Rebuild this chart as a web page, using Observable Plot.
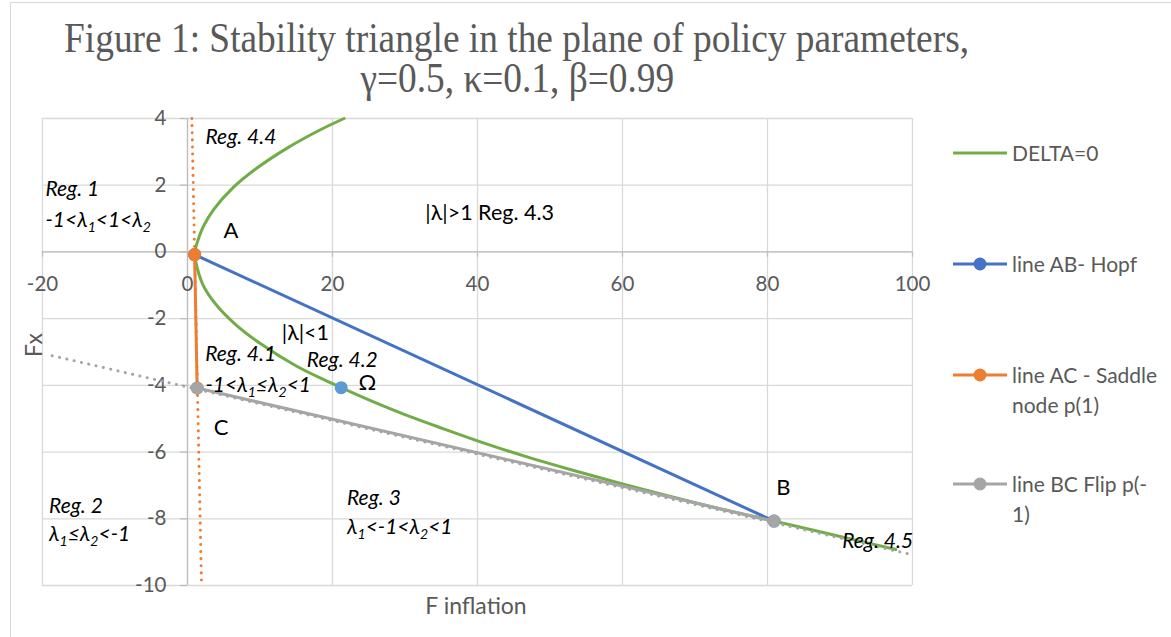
<!DOCTYPE html>
<html><head><meta charset="utf-8">
<script src="https://cdn.jsdelivr.net/npm/d3@7"></script>
<script src="https://cdn.jsdelivr.net/npm/@observablehq/plot@0.6"></script>
<style>
body{margin:0;background:#fff;}
#wrap{position:relative;width:1171px;height:637px;overflow:hidden;font-family:Lato,sans-serif;background:#fff;}
#frame{position:absolute;left:10px;top:2px;width:1300px;height:800px;border-top:1.5px solid #d9d9d9;border-left:1.5px solid #d9d9d9;}
#title{position:absolute;left:-483px;top:18px;width:2000px;text-align:center;font-family:"Liberation Serif",serif;font-size:42px;line-height:40px;color:#595959;}
#title div{white-space:nowrap;}
#title span{display:inline-block;transform-origin:center;white-space:nowrap;}
#chart{position:absolute;left:0;top:105px;}
.lg{position:absolute;left:953px;display:flex;align-items:flex-start;font-size:21px;line-height:30px;color:#595959;white-space:nowrap;}
.lg svg{flex:none;}
.ax{position:absolute;font-size:23px;color:#595959;white-space:nowrap;}
</style>
</head><body>
<div id="wrap">
  <div id="frame"></div>
  <div id="title"></div>
  <div id="chart"></div>
  <div id="legend"></div>
  <div class="ax" id="ytitle"></div>
  <div class="ax" id="xtitle"></div>
</div>
<script>
// ---------- data ----------
const titleLines = ["Figure 1: Stability triangle in the plane of policy parameters,", "γ=0.5, κ=0.1, β=0.99"];
const xTitle = "F inflation";
const yTitle = "Fx";
const xTicks = [-20, 0, 20, 40, 60, 80, 100];
const yTicks = [-10, -8, -6, -4, -2, 0, 2, 4];

const seriesNames = ["DELTA=0", "line AB- Hopf", "line AC - Saddle\nnode p(1)", "line BC Flip p(-\n1)"];
const seriesColors = ["#70AD47", "#4472C4", "#ED7D31", "#A5A5A5"];

// DELTA = 0 curve (upper branch from the top edge, through the vertex near A, down past B)
const deltaX = [21.6, 18.4, 13.8, 9.3, 6.25, 3.6, 2.2, 1.6, 1.18, 0.97, 1.1, 2.1, 3.9, 6.6, 10.2, 15.0, 19.7, 21.2, 25.9, 29.9, 34.9, 40.5, 47.5, 54.4, 60.4, 66.2, 72.8, 80.9, 89.0, 97.7];
const deltaY = [4.0, 3.67, 3.12, 2.47, 1.92, 1.27, 0.77, 0.45, 0.17, -0.08, -0.27, -0.97, -1.57, -2.17, -2.77, -3.42, -3.92, -4.07, -4.52, -4.87, -5.27, -5.70, -6.19, -6.62, -6.98, -7.31, -7.67, -8.07, -8.48, -8.92];

// corner points
const pointNames = ["A", "B", "C"];
const pointX = [0.98, 80.9, 1.33];
const pointY = [-0.08, -8.07, -4.08];
const omegaX = [21.2];
const omegaY = [-4.07];

// dotted extensions
const saddleExtX = [0.6, 1.93];
const saddleExtY = [4, -10];
const flipExtX = [-18.67, 100];
const flipExtY = [-3.11, -9.08];

// annotations
const italicNotes = ["Reg. 4.4", "Reg. 1", "-1<λ_1<1<λ_2", "Reg. 4.1", "Reg. 4.2", "-1<λ_1≤λ_2<1", "Reg. 2", "λ_1≤λ_2<-1", "Reg. 3", "λ_1<-1<λ_2<1", "Reg. 4.5"];
const italicX = [2.48, -19.6, -19.6, 2.44, 16.46, 2.48, -19.1, -19.1, 22.0, 22.0, 90.3];
const italicY = [3.45, 1.89, 0.96, -3.07, -3.26, -3.99, -7.61, -8.46, -7.37, -8.26, -8.68];
const plainNotes = ["|λ|>1 Reg. 4.3", "|λ|<1"];
const plainX = [32.8, 13.0];
const plainY = [1.17, -2.44];
const letterNotes = ["A", "B", "C", "Ω"];
const letterX = [4.97, 81.2, 3.63, 23.6];
const letterY = [0.63, -7.08, -5.27, -3.93];

// ---------- build tables ----------
const delta = deltaX.map((x, i) => ({x, y: deltaY[i]}));
const P = Object.fromEntries(pointNames.map((n, i) => [n, {x: pointX[i], y: pointY[i]}]));
const lineAB = [P.A, P.B];
const lineAC = [P.A, P.C];
const lineBC = [P.C, P.B];
const saddleExt = saddleExtX.map((x, i) => ({x, y: saddleExtY[i]}));
const flipExt = flipExtX.map((x, i) => ({x, y: flipExtY[i]}));
const omega = omegaX.map((x, i) => ({x, y: omegaY[i]}));
const italics = italicNotes.map((t, i) => ({t, x: italicX[i], y: italicY[i]}));
const plains = plainNotes.map((t, i) => ({t, x: plainX[i], y: plainY[i]}));
const letters = letterNotes.map((t, i) => ({t, x: letterX[i], y: letterY[i]}));

const [cGreen, cBlue, cOrange, cGray] = seriesColors;
const grid = "#D9D9D9";
const axisC = "#BFBFBF";
const tickC = "#595959";

const plot = Plot.plot({
  width: 1171,
  height: 532,
  marginLeft: 42,
  marginRight: 259,
  marginTop: 13,
  marginBottom: 52,
  x: {domain: [-20, 100], axis: null},
  y: {domain: [-10, 4], axis: null},
  style: {fontFamily: "Lato, sans-serif", background: "transparent"},
  marks: [
    Plot.ruleX(xTicks, {stroke: grid, strokeWidth: 1.3}),
    Plot.ruleY(yTicks, {stroke: grid, strokeWidth: 1.3}),
    Plot.ruleX([0], {stroke: axisC, strokeWidth: 1.3}),
    Plot.ruleY([0], {stroke: axisC, strokeWidth: 1.3}),
    Plot.ruleX(xTicks, {x: d => d, y1: 0, y2: -0.16, stroke: axisC, strokeWidth: 1.3}),
    Plot.ruleY(yTicks, {y: d => d, x1: -0.95, x2: 0, stroke: axisC, strokeWidth: 1.3}),
    Plot.text(xTicks, {x: d => d, y: 0, dy: 33, text: d => String(d), fill: tickC, fontSize: 20.5, lineAnchor: "middle"}),
    Plot.text(yTicks, {x: 0, y: d => d, dx: -21, text: d => String(d), fill: tickC, fontSize: 20.5, textAnchor: "end", lineAnchor: "middle"}),
    Plot.line(delta, {x: "x", y: "y", stroke: cGreen, strokeWidth: 3, curve: "catmull-rom"}),
    Plot.line(saddleExt, {x: "x", y: "y", stroke: cOrange, strokeWidth: 3, strokeDasharray: "0.1,7", strokeLinecap: "round"}),
    Plot.line(flipExt, {x: "x", y: "y", stroke: cGray, strokeWidth: 3, strokeDasharray: "0.1,7.4", strokeLinecap: "round"}),
    Plot.line(lineAB, {x: "x", y: "y", stroke: cBlue, strokeWidth: 3}),
    Plot.dot(lineAB, {x: "x", y: "y", fill: cBlue, r: 6.5}),
    Plot.line(lineAC, {x: "x", y: "y", stroke: cOrange, strokeWidth: 3}),
    Plot.dot(lineAC, {x: "x", y: "y", fill: cOrange, r: 6.5}),
    Plot.line(lineBC, {x: "x", y: "y", stroke: cGray, strokeWidth: 3}),
    Plot.dot(lineBC, {x: "x", y: "y", fill: cGray, r: 6.5}),
    Plot.dot(omega, {x: "x", y: "y", fill: "#5B9BD5", r: 6.5}),
    Plot.text(italics, {x: "x", y: "y", text: "t", fontStyle: "italic", fontSize: 21, fill: "#000", textAnchor: "start", lineAnchor: "middle"}),
    Plot.text(plains, {x: "x", y: "y", text: "t", fontSize: 21.5, fill: "#000", textAnchor: "start", lineAnchor: "middle"}),
    Plot.text(letters, {x: "x", y: "y", text: "t", fontSize: 22, fill: "#000", textAnchor: "start", lineAnchor: "middle"})
  ]
});

// subscripts: "λ_1" -> λ with a lowered small 1
plot.querySelectorAll("text").forEach(el => {
  const s = el.textContent;
  if (!s.includes("_")) return;
  while (el.firstChild) el.removeChild(el.firstChild);
  const parts = s.split(/(_\d)/);
  const NS = "http://www.w3.org/2000/svg";
  let shifted = false;
  parts.forEach(p => {
    if (!p) return;
    const ts = document.createElementNS(NS, "tspan");
    if (p.startsWith("_")) {
      ts.textContent = p.slice(1);
      ts.setAttribute("font-size", "14");
      ts.setAttribute("dy", "5");
      shifted = true;
    } else {
      ts.textContent = p;
      if (shifted) { ts.setAttribute("dy", "-5"); shifted = false; }
    }
    el.appendChild(ts);
  });
});
document.getElementById("chart").appendChild(plot);

// title
const titleEl = document.getElementById("title");
titleLines.forEach(t => {
  const d = document.createElement("div");
  const s = document.createElement("span");
  s.textContent = t;
  d.appendChild(s);
  titleEl.appendChild(d);
});
const spans = titleEl.querySelectorAll("span");
const w0 = spans[0].getBoundingClientRect().width;
const sx = 905 / w0;
spans.forEach(s => s.style.transform = `scaleX(${sx})`);

// legend
const legendTops = [138, 249, 360, 469];
const legendEl = document.getElementById("legend");
seriesNames.forEach((name, i) => {
  const item = document.createElement("div");
  item.className = "lg";
  item.style.top = legendTops[i] + "px";
  const marker = i === 0 ? "" : `<circle cx="27" cy="15" r="6.5" fill="${seriesColors[i]}"/>`;
  item.innerHTML = `<svg width="59" height="30"><line x1="0" x2="54" y1="15" y2="15" stroke="${seriesColors[i]}" stroke-width="3"/>${marker}</svg>`;
  const txt = document.createElement("div");
  txt.innerHTML = name.split("\n").map(s => s.replace(/&/g, "&amp;").replace(/</g, "&lt;")).join("<br>");
  item.appendChild(txt);
  legendEl.appendChild(item);
});

// axis titles
const yt = document.getElementById("ytitle");
yt.textContent = yTitle;
const xt = document.getElementById("xtitle");
xt.textContent = xTitle;
const yr = yt.getBoundingClientRect();
yt.style.left = (33 - yr.width / 2) + "px";
yt.style.top = (345 - yr.height / 2) + "px";
yt.style.transform = "rotate(-90deg)";
const xr = xt.getBoundingClientRect();
xt.style.left = (476 - xr.width / 2) + "px";
xt.style.top = (605 - xr.height / 2) + "px";
</script>
</body></html>
